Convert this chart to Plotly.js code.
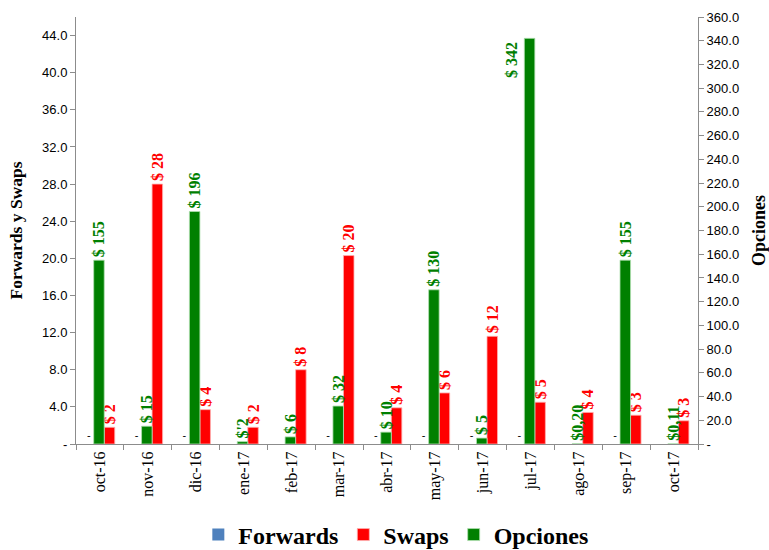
<!DOCTYPE html>
<html>
<head>
<meta charset="utf-8">
<script src="https://cdn.plot.ly/plotly-3.0.1.min.js"></script>
<style>html,body{margin:0;padding:0;background:#fff;}#chart{width:769px;height:550px;}</style>
</head>
<body>
<div id="chart"></div>
<script>
var categories = ["oct-16","nov-16","dic-16","ene-17","feb-17","mar-17","abr-17","may-17","jun-17","jul-17","ago-17","sep-17","oct-17"];
var forwards = [0,0,0,0,0,0,0,0,0,0,0,0,0];
var forwardsLabels = ["-","-","-","","","-","-","-","-","-","","-",""];
var swaps = [1.8,28.0,3.7,1.8,8.0,20.3,3.9,5.5,11.6,4.5,3.4,3.1,2.5];
var swapsLabels = ["$ 2","$ 28","$ 4","$ 2","$ 8","$ 20","$ 4","$ 6","$ 12","$ 5","$ 4","$ 3","$ 3"];
var opciones = [155,15,196,2,6,32,10,130,5,342,0.20,155,0.11];
var opcionesLabels = ["$ 155","$ 15","$ 196","$'2","$ 6","$ 32","$ 10","$ 130","$ 5","$ 342","$0,20","$ 155","$0,11"];
var leftTicks = [0,4,8,12,16,20,24,28,32,36,40,44];
var leftTickText = ["-","4.0","8.0","12.0","16.0","20.0","24.0","28.0","32.0","36.0","40.0","44.0"];
var rightTicks = [0,20,40,60,80,100,120,140,160,180,200,220,240,260,280,300,320,340,360];
var rightTickText = ["-","20.0","40.0","60.0","80.0","100.0","120.0","140.0","160.0","180.0","200.0","220.0","240.0","260.0","280.0","300.0","320.0","340.0","360.0"];

var serif = "'Liberation Serif', 'Times New Roman', serif";
var sans = "'Liberation Sans', Arial, sans-serif";
var labelFont = function(c){ return {family: serif, size: 16, color: c, weight: 700}; };

// the tallest Opciones bar has its label placed beside the bar (no room above)
var besideIdx = opciones.indexOf(Math.max.apply(null, opciones));
var opcionesText = opcionesLabels.map(function(t, i){ return i === besideIdx ? "" : t; });

var traces = [
  {type:"bar", name:"Forwards", x:categories, y:forwards, yaxis:"y",
   marker:{color:"#4F81BD"}, offset:-0.32, width:0.18,
   text:forwardsLabels, textposition:"outside", textangle:0, cliponaxis:false,
   textfont:{family:sans, size:11, color:"#000"}, hoverinfo:"x+y"},
  {type:"bar", name:"Swaps", x:categories, y:swaps, yaxis:"y",
   marker:{color:"#FF0000", line:{color:"#ffb0b0", width:0.8}}, offset:0.09, width:0.22,
   text:swapsLabels, textposition:"outside", textangle:-90, cliponaxis:false, constraintext:"none",
   textfont:labelFont("#FF0000")},
  {type:"bar", name:"Opciones", x:categories, y:opciones, yaxis:"y2",
   marker:{color:"#008000", line:{color:"#b0e0b0", width:0.8}}, offset:-0.13, width:0.22,
   text:opcionesText, textposition:"outside", textangle:-90, cliponaxis:false, constraintext:"none",
   textfont:labelFont("#008000")}
];

var layout = {
  width:769, height:550,
  margin:{l:76, r:71, t:17, b:106, autoexpand:false},
  paper_bgcolor:"#fff", plot_bgcolor:"#fff",
  showlegend:true,
  barmode:"overlay",
  legend:{orientation:"h", x:0.515, xanchor:"center", y:-0.213, yanchor:"middle",
          font:{family:serif, size:24, color:"#000", weight:700}, traceorder:"normal", itemwidth:30},
  annotations:[{x:categories[besideIdx], y:opciones[besideIdx], xref:"x", yref:"y2",
                text:opcionesLabels[besideIdx], showarrow:false, textangle:-90,
                xanchor:"center", yanchor:"top", xshift:-19, yshift:-2,
                font:labelFont("#008000")}],
  xaxis:{type:"category", automargin:false, showline:true, linecolor:"#8c8c8c", linewidth:1,
         ticks:"outside", tickson:"boundaries", ticklen:5, tickcolor:"#8c8c8c",
         tickangle:-90, tickfont:{family:serif, size:16, color:"#000"},
         showgrid:false, zeroline:false, range:[-0.5,12.5]},
  yaxis:{range:[0,46], automargin:false, tickvals:leftTicks, ticktext:leftTickText, showline:true, linecolor:"#8c8c8c",
         ticks:"outside", ticklen:5, tickcolor:"#8c8c8c", showgrid:false, zeroline:false,
         tickfont:{family:sans, size:13, color:"#000"},
         title:{text:"Forwards y Swaps", font:{family:serif, size:17.5, color:"#000", weight:700}, standoff:14}},
  yaxis2:{range:[0,360], automargin:false, overlaying:"y", side:"right", tickvals:rightTicks, ticktext:rightTickText,
          showline:true, linecolor:"#8c8c8c", ticks:"outside", ticklen:5, tickcolor:"#8c8c8c",
          showgrid:false, zeroline:false,
          tickfont:{family:sans, size:13, color:"#000"},
          title:{text:"Opciones", font:{family:serif, size:18, color:"#000", weight:700}, standoff:14}}
};

Plotly.newPlot("chart", traces, layout, {displayModeBar:false, staticPlot:true});
</script>
</body>
</html>
